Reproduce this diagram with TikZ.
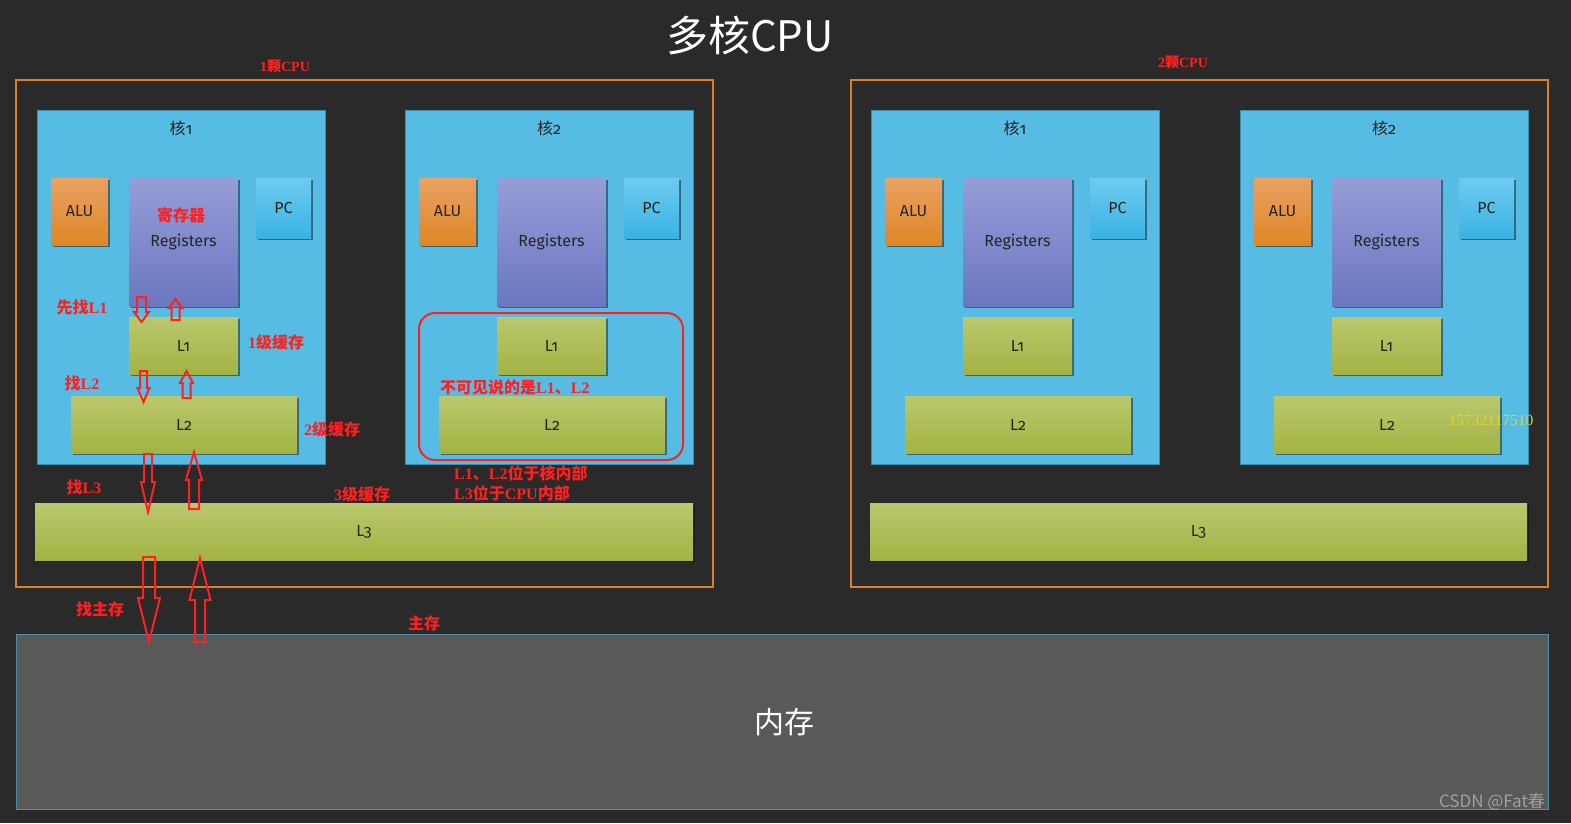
\documentclass[tikz,border=0pt]{standalone}
\usepackage{fontspec}
\setmainfont{Liberation Serif}
\newfontfamily\cjk{Noto Sans CJK SC}
\newfontfamily\bodyfont[Numbers=OldStyle]{Fira Sans}
\usetikzlibrary{shadows}
\definecolor{bg}{HTML}{2A2A2A}
\definecolor{coreblue}{HTML}{56BCE4}
\definecolor{coreedge}{HTML}{3A8DB0}
\definecolor{aluT}{HTML}{E9A262}
\definecolor{aluB}{HTML}{DF8626}
\definecolor{regT}{HTML}{959DD8}
\definecolor{regB}{HTML}{6C77C0}
\definecolor{pcT}{HTML}{6DCBF0}
\definecolor{pcB}{HTML}{3BB2E2}
\definecolor{cacheT}{HTML}{BAC86E}
\definecolor{cacheB}{HTML}{A3B343}
\definecolor{framec}{HTML}{D8802C}
\definecolor{memc}{HTML}{595959}
\definecolor{memedge}{HTML}{4A90A8}
\definecolor{redc}{HTML}{FF2020}
\definecolor{yel}{HTML}{D8D43A}
\newcommand\C[1]{{\cjk\bfseries #1}}
\newcommand\blockarrow[6]{% x, ytail, yneck, yhead, shaft half, head half
  \draw[harrow] ({#1-#5},#2) -- ({#1-#5},#3) -- ({#1-#6},#3) -- (#1,#4)
    -- ({#1+#6},#3) -- ({#1+#5},#3) -- ({#1+#5},#2) -- cycle;}
\tikzset{
  sz/.style 2 args={minimum width=#1pt, minimum height=#2pt, anchor=north west, inner sep=0pt, outer sep=0pt},
  shad/.style={drop shadow={shadow xshift=2pt, shadow yshift=-2pt, opacity=0.45, fill=black}},
  txt/.style={font=\bodyfont\fontsize{16}{19}\selectfont, text=black!85},
  core/.style={fill=coreblue, draw=coreedge, line width=0.8pt},
  alu/.style={txt, shad, top color=aluT, bottom color=aluB},
  reg/.style={txt, shad, top color=regT, bottom color=regB},
  pc/.style={txt, shad, top color=pcT, bottom color=pcB},
  cache/.style={txt, shad, top color=cacheT, bottom color=cacheB},
  cpuframe/.style={draw=framec, line width=1.2pt},
  corelabel/.style={font=\fontsize{16}{19}\selectfont, text=black!85},
  redlbl/.style={text=redc, font=\bfseries\fontsize{16}{19}\selectfont, inner sep=0pt},
  harrow/.style={draw=redc, line width=2pt, line join=miter},
}
\begin{document}
\begin{tikzpicture}[x=1pt,y=-1pt]
\fill[bg] (0,0) rectangle (1571,823);
\useasboundingbox (0,0) rectangle (1571,823);
% title
\node[font=\cjk\fontsize{42}{50}\selectfont, text=white] (title) at (750,35) {多核CPU};
% cpu frames
\node[cpuframe, sz={697}{507}] (cpu1) at (16,80) {};
\node[cpuframe, sz={697}{507}] (cpu2) at (851,80) {};
\node[redlbl, font=\bfseries\fontsize{14}{16}\selectfont] (cpu1lbl) at (285,66) {1\C{颗}CPU};
\node[redlbl, font=\bfseries\fontsize{14}{16}\selectfont] (cpu2lbl) at (1183,62) {2\C{颗}CPU};
% cores
\foreach \o/\n/\k in {0/a/1, 368/b/2, 834/c/1, 1203/d/2}{
  \begin{scope}[xshift=\o]
    \node[core, sz={288}{354}] (core\n) at (37,110) {};
    \node[corelabel] (corelbl\n) at (181,128) {{\cjk 核}{\bodyfont\k}};
    \node[alu, sz={57}{67}] (alu\n) at (51,178) {ALU};
    \node[reg, sz={109}{128}] (reg\n) at (129,178) {Registers};
    \node[pc, sz={55}{60}] (pc\n) at (256,178) {PC};
    \node[cache, sz={109}{57}] (lone\n) at (129,317) {L1};
    \node[cache, sz={226}{57}] (ltwo\n) at (71,396) {L2};
  \end{scope}
}
% L3
\node[cache, sz={658}{57}] (lthree1) at (35,503) {L3};
\node[cache, sz={657}{57}] (lthree2) at (870,503) {L3};
% memory
\node[fill=memc, draw=memedge, line width=1pt, sz={1532}{175}] (mem) at (16,634) {};
\node[font=\cjk\fontsize{30}{36}\selectfont, text=white] (memlbl) at (784,722) {内存};
% visible box
\node[draw=redc, line width=2pt, rounded corners=16pt, sz={264}{147}] (vis) at (419,313) {};
% red labels
\node[redlbl] (jcq) at (181,215) {\C{寄存器}};
\node[redlbl] (f1) at (82,307) {\C{先找}L1};
\node[redlbl] (c1) at (276,342) {1\C{级缓存}};
\node[redlbl] (f2) at (82,383) {\C{找}L2};
\node[redlbl] (c2) at (332,429) {2\C{级缓存}};
\node[redlbl] (f3) at (84,487) {\C{找}L3};
\node[redlbl] (c3) at (362,494) {3\C{级缓存}};
\node[redlbl] (fm) at (100,609) {\C{找主存}};
\node[redlbl] (zc) at (424,623) {\C{主存}};
\node[redlbl, anchor=west] (bkj) at (440,387) {\C{不可见说的是}L1\C{、}L2};
\node[redlbl, anchor=west] (n1) at (454,473) {L1\C{、}L2\C{位于核内部}};
\node[redlbl, anchor=west] (n2) at (454,493) {L3\C{位于}CPU\C{内部}};
% arrows
\blockarrow{141.5}{297}{312}{322}{4.5}{7.5}
\blockarrow{175.5}{320}{308}{299}{4}{6.5}
\blockarrow{143.5}{371}{388}{402}{3.5}{6}
\blockarrow{186.5}{398}{383}{371}{4}{6.5}
\blockarrow{148}{454}{482}{512}{4}{7}
\blockarrow{194}{509}{480}{452}{5}{8}
\blockarrow{149}{557}{598}{642}{6}{11}
\blockarrow{200}{642}{600}{558}{5}{10.5}
% watermarks
\node[font=\fontsize{15.5}{18}\selectfont, text=yel] (phone) at (1491,420) {15732117510};
\node[font=\cjk\fontsize{17}{20}\selectfont, text=gray!75] (csdn) at (1492,802) {CSDN @Fat春};
\end{tikzpicture}
\end{document}
